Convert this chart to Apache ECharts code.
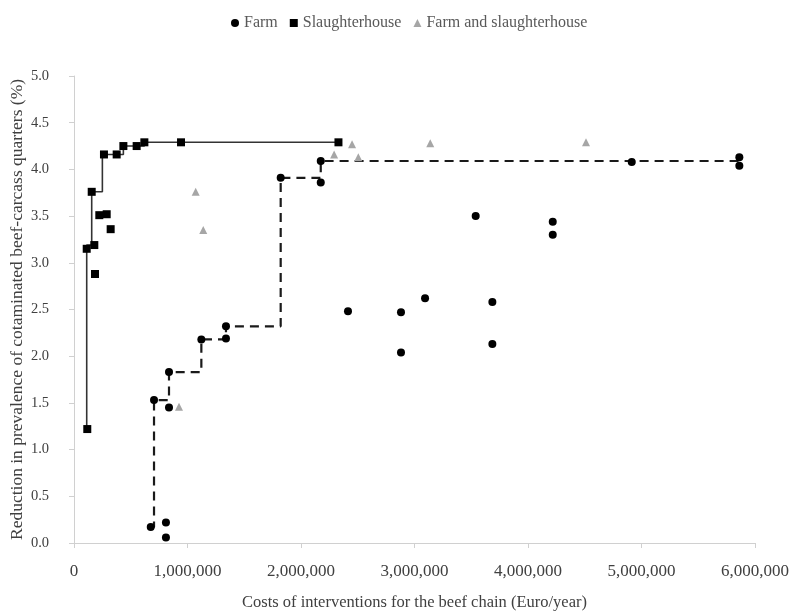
<!DOCTYPE html>
<html>
<head>
<meta charset="utf-8">
<script src="https://cdn.jsdelivr.net/npm/echarts@6/dist/echarts.min.js"></script>
<style>html,body{margin:0;padding:0;background:#fff}#c{width:792px;height:612px}</style>
</head>
<body>
<div id="c"></div>
<script>
// Farm interventions: [cost (Euro/year), reduction (%)]
const farm = [
  [676000, 0.17], [810000, 0.22], [810000, 0.06], [705000, 1.53], [837000, 1.45],
  [837000, 1.83], [1122000, 2.18], [1339000, 2.19], [1339000, 2.32], [1821000, 3.91],
  [2174000, 4.09], [2174000, 3.86], [2414000, 2.48], [2881000, 2.47], [2881000, 2.04],
  [3093000, 2.62], [3539000, 3.50], [3686000, 2.58], [3686000, 2.13], [4218000, 3.44],
  [4218000, 3.30], [4914000, 4.08], [5862000, 4.13], [5862000, 4.04]
];
// Slaughterhouse interventions
const slaughterhouse = [
  [117000, 1.22], [112000, 3.15], [179000, 3.19], [185000, 2.88], [156000, 3.76],
  [223000, 3.51], [288000, 3.52], [323000, 3.36], [264000, 4.16], [376000, 4.16],
  [435000, 4.25], [552000, 4.25], [620000, 4.29], [943000, 4.29], [2330000, 4.29]
];
// Farm and slaughterhouse interventions
const farmAndSlaughterhouse = [
  [925000, 1.46], [1072000, 3.76], [1139000, 3.35], [2292000, 4.16],
  [2450000, 4.27], [2505000, 4.13], [3139000, 4.28], [4511000, 4.29]
];
// Efficient frontiers (step lines)
const farmFrontier = [
  [676000, 0.17], [705000, 1.53], [837000, 1.83], [1122000, 2.18], [1339000, 2.32],
  [1821000, 3.91], [2174000, 4.09], [5862000, 4.09]
];
const slaughterFrontier = [
  [112000, 1.22], [112000, 3.19], [156000, 3.76], [250000, 4.16], [435000, 4.25],
  [620000, 4.29], [2330000, 4.29]
];
const xTicks = [0, 1000000, 2000000, 3000000, 4000000, 5000000, 6000000];

const FONT = '"Liberation Serif", "DejaVu Serif", serif';
const chart = echarts.init(document.getElementById('c'), null, {renderer: 'canvas'});
chart.setOption({
  animation: false,
  backgroundColor: '#ffffff',
  textStyle: {fontFamily: FONT},
  legend: {
    top: 10, left: 226,
    itemWidth: 8, itemHeight: 8, itemGap: 12,
    textStyle: {fontFamily: FONT, fontSize: 16, color: '#595959'},
    data: [
      {name: 'Farm', icon: 'circle', itemStyle: {color: '#000'}},
      {name: 'Slaughterhouse', icon: 'rect', itemStyle: {color: '#000'}},
      {name: 'Farm and slaughterhouse', icon: 'triangle', itemStyle: {color: '#a6a6a6'}}
    ]
  },
  grid: {left: 74, right: 37, top: 76, bottom: 69, containLabel: false, outerBoundsMode: 'none'},
  xAxis: {
    type: 'value', min: xTicks[0], max: xTicks[xTicks.length - 1], interval: 1000000,
    name: 'Costs of interventions for the beef chain (Euro/year)',
    nameLocation: 'middle', nameGap: 51, nameMoveOverlap: false,
    nameTextStyle: {fontFamily: FONT, fontSize: 16.5, color: '#404040'},
    axisLine: {lineStyle: {color: '#d0d0d0', width: 1}},
    axisTick: {show: true, length: 5, lineStyle: {color: '#d0d0d0'}},
    splitLine: {show: false},
    axisLabel: {
      fontFamily: FONT, fontSize: 17, color: '#404040', margin: 20,
      formatter: v => v.toLocaleString('en-US')
    }
  },
  yAxis: {
    type: 'value', min: 0, max: 5, interval: 0.5,
    name: 'Reduction in prevalence of cotaminated beef-carcass quarters (%)',
    nameLocation: 'middle', nameGap: 48, nameRotate: 90, nameMoveOverlap: false,
    nameTextStyle: {fontFamily: FONT, fontSize: 17.5, color: '#404040'},
    axisLine: {show: true, lineStyle: {color: '#d0d0d0', width: 1}},
    axisTick: {show: true, length: 5, lineStyle: {color: '#d0d0d0'}},
    splitLine: {show: false},
    axisLabel: {
      fontFamily: FONT, fontSize: 14.5, color: '#404040', margin: 25,
      formatter: v => v.toFixed(1)
    }
  },
  series: [
    {
      name: 'farmFrontier', type: 'line', step: 'end', data: farmFrontier,
      showSymbol: false, symbol: 'none', silent: true, z: 1,
      lineStyle: {color: '#1a1a1a', width: 2.2, type: [9, 6]}
    },
    {
      name: 'slaughterFrontier', type: 'line', step: 'end', data: slaughterFrontier,
      showSymbol: false, symbol: 'none', silent: true, z: 1,
      lineStyle: {color: '#333333', width: 1.6}
    },
    {
      name: 'Farm and slaughterhouse', type: 'scatter', data: farmAndSlaughterhouse,
      symbol: 'triangle', symbolSize: 8, z: 3,
      itemStyle: {color: '#a6a6a6', opacity: 1}
    },
    {
      name: 'Farm', type: 'scatter', data: farm,
      symbol: 'circle', symbolSize: 8, z: 4,
      itemStyle: {color: '#000000', opacity: 1}
    },
    {
      name: 'Slaughterhouse', type: 'scatter', data: slaughterhouse,
      symbol: 'rect', symbolSize: 8, z: 4,
      itemStyle: {color: '#000000', opacity: 1}
    }
  ]
});
</script>
</body>
</html>
